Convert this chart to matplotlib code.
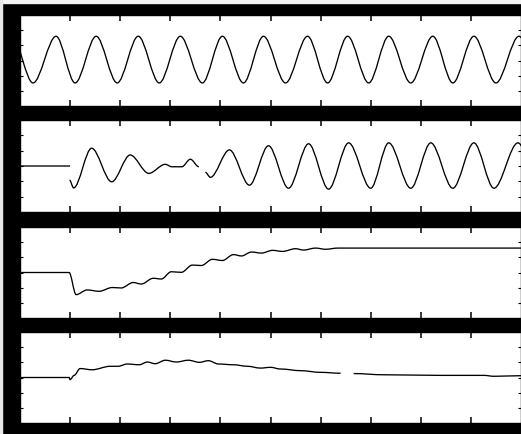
import matplotlib
matplotlib.use("Agg")
import matplotlib.pyplot as plt
from matplotlib.path import Path
from matplotlib.patches import PathPatch, Rectangle

# values: local extrema / knee points (time, value)
# trace 1 - reference sinusoid
t_ref = [-0.16, 0.26, 0.72, 1.10, 1.52, 1.94, 2.36, 2.78, 3.20, 3.64, 4.04, 4.46, 4.86,
         5.30, 5.74, 6.14, 6.54, 6.96, 7.36, 7.80, 8.24, 8.64, 9.06, 9.50, 9.96, 10.38]
y_ref = [1.6, -1.48, 1.6, -1.48, 1.6, -1.48, 1.6, -1.48, 1.6, -1.48, 1.6, -1.48, 1.6,
         -1.48, 1.6, -1.48, 1.6, -1.48, 1.6, -1.48, 1.6, -1.48, 1.6, -1.48, 1.6, -1.48]

# trace 2 - output, interrupted then recovering
t_out_a = [0.0, 1.0]
y_out_a = [0.0, 0.0]
t_out_b = [0.99, 1.07, 1.43, 1.83, 2.20, 2.57, 2.90, 3.03, 3.23, 3.40, 3.57]
y_out_b = [-0.92, -1.43, 1.16, -1.03, 0.72, -0.48, 0.11, -0.05, -0.05, 0.44, -0.05]
t_out_c = [3.70, 3.80, 4.18, 4.58, 4.96, 5.36, 5.76, 6.16, 6.56, 7.00, 7.36, 7.80,
           8.20, 8.64, 9.06, 9.46, 9.94, 10.36]
y_out_c = [-0.41, -0.74, 1.05, -1.25, 1.32, -1.45, 1.45, -1.51, 1.51, -1.45, 1.51, -1.45,
           1.51, -1.45, 1.51, -1.45, 1.51, -1.45]

# trace 3 - slow rise after the step
t_rise = [0.0, 0.98, 1.12, 1.34, 1.58, 1.84, 2.02, 2.26, 2.42, 2.66, 2.82, 3.02, 3.22,
          3.44, 3.62, 3.84, 4.04, 4.26, 4.42, 4.62, 4.82, 5.04, 5.24, 5.50, 5.66, 5.90,
          6.10, 6.34, 6.80, 10.02]
y_rise = [0.0, 0.0, -1.46, -1.15, -1.24, -0.99, -1.02, -0.66, -0.76, -0.38, -0.43, 0.05, 0.01,
          0.49, 0.46, 0.87, 0.79, 1.18, 1.09, 1.35, 1.28, 1.46, 1.39, 1.57, 1.48, 1.61,
          1.53, 1.61, 1.61, 1.61]

# trace 4 - bump and slow decay
t_bump_a = [0.0, 0.98, 1.00, 1.08, 1.20, 1.44, 1.80, 1.96, 2.14, 2.38, 2.54, 2.70, 2.90,
            3.12, 3.36, 3.58, 3.76, 3.96, 4.26, 4.54, 4.80, 5.00, 5.20, 5.60, 6.00, 6.40]
y_bump_a = [0.0, 0.0, -0.14, 0.14, 0.59, 0.51, 0.74, 0.74, 0.89, 0.84, 1.02, 0.91, 1.14,
            1.02, 1.14, 1.00, 1.11, 0.89, 0.84, 0.74, 0.62, 0.67, 0.56, 0.45, 0.34, 0.28]
t_bump_b = [6.66, 7.26, 8.40, 9.26, 9.46, 10.02]
y_bump_b = [0.26, 0.18, 0.14, 0.14, 0.08, 0.12]

panels = [
    [(t_ref, y_ref)],
    [(t_out_a, y_out_a), (t_out_b, y_out_b), (t_out_c, y_out_c)],
    [(t_rise, y_rise)],
    [(t_bump_a, y_bump_a), (t_bump_b, y_bump_b)],
]


def trace_path(t, y):
    # smooth between knots, flat tangent at each knot
    verts = [(t[0], y[0])]
    codes = [Path.MOVETO]
    for i in range(1, len(t)):
        d = (t[i] - t[i - 1]) / 3
        verts += [(t[i - 1] + d, y[i - 1]), (t[i] - d, y[i]), (t[i], y[i])]
        codes += [Path.CURVE4] * 3
    return Path(verts, codes)


W, H = 521, 434
fig = plt.figure(figsize=(W / 100, H / 100), dpi=100, facecolor="black")
fig.add_artist(Rectangle((0, 1 - 3 / H), 1, 3 / H, transform=fig.transFigure,
                         color="#f4f4f4", zorder=0))
fig.add_artist(Rectangle((0, 0), 1.5 / W, 1, transform=fig.transFigure,
                         color="#e8e8e8", zorder=0))

# panel top / bottom edges in pixels
rows = [(15, 106), (120, 212), (227, 318), (332, 423)]
for (top, bot), traces in zip(rows, panels):
    ax = fig.add_axes([20 / W, (H - bot) / H, (W - 20) / W, (bot - top) / H])
    ax.set_facecolor("white")
    ax.set_xlim(0, 10)
    ax.set_ylim(-3, 3)
    for t, y in traces:
        ax.add_patch(PathPatch(trace_path(t, y), fill=False, color="black", lw=0.95))
    ax.set_xticks(range(1, 10))
    ax.set_yticks([-2, -1, 0, 1, 2])
    ax.tick_params(axis="x", direction="in", length=4, width=1.1, color="black",
                   top=True, bottom=True, labelbottom=False)
    ax.tick_params(axis="y", direction="in", length=2.5, width=0.8, color="black",
                   left=True, right=True, labelleft=False)
    for s in ax.spines.values():
        s.set_color("black")
        s.set_linewidth(1.0)

fig.savefig("out.png", dpi=100, facecolor="black")
